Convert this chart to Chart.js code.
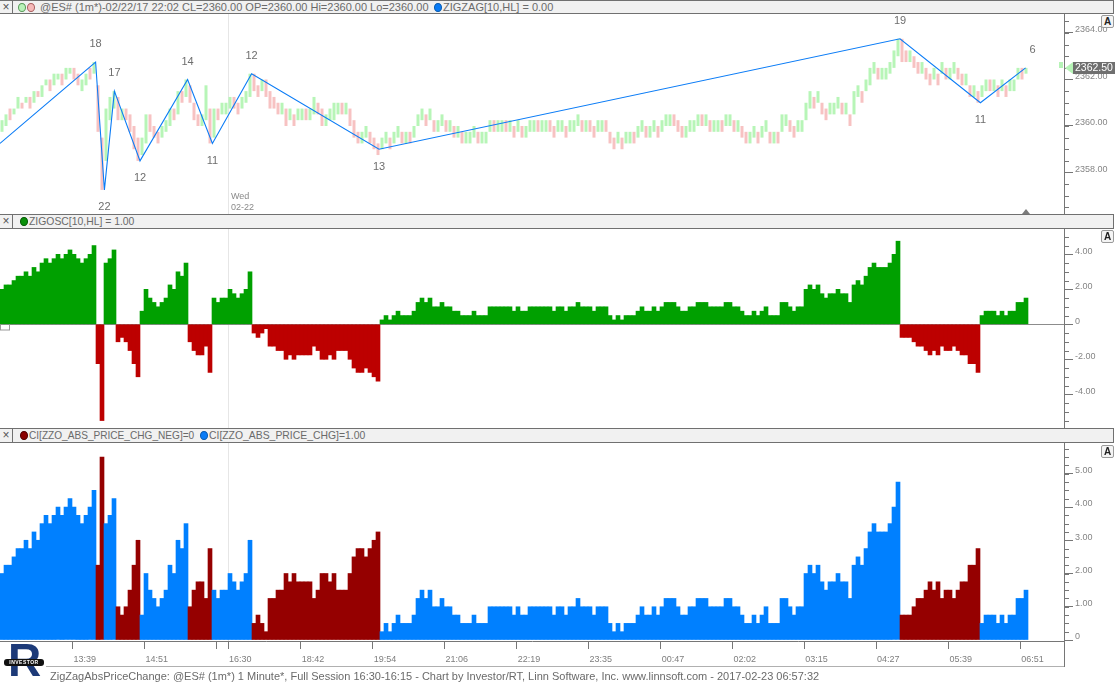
<!DOCTYPE html>
<html><head><meta charset="utf-8">
<script src="https://cdn.jsdelivr.net/npm/chart.js@4.4.1/dist/chart.umd.min.js"></script>
<style>
body{margin:0;background:#fff;width:1115px;height:684px;overflow:hidden;position:relative;font-family:"Liberation Sans",Arial,sans-serif;}
.hdr{position:absolute;left:0;width:1113px;background:#f1f1f1;border-top:1px solid #707070;border-bottom:1px solid #707070;border-right:1px solid #707070;font-size:11px;color:#6a6a6a;white-space:nowrap;box-sizing:content-box}
.hdr span{position:absolute;top:0}
.xb{position:absolute;left:0;top:0;width:12px;height:100%;border-right:1px solid #707070;color:#555;font-size:12px;text-align:center}
.dot{display:inline-block;width:6px;height:7px;border-radius:50%;border:1px solid;top:2px !important}
.abtn{position:absolute;left:1101px;width:11px;height:11px;border:1px solid #9a9a9a;border-radius:2px;background:#f4f4f4;font-size:10px;font-weight:bold;color:#222;text-align:center;line-height:11px}
canvas{position:absolute;left:0}
.foot{position:absolute;left:50px;top:670px;font-size:11px;color:#6a6a6a;white-space:nowrap}
.logoR{position:absolute;left:8px;top:636px;font-size:46px;font-weight:bold;color:#1d3a78;line-height:48px}
.logoB{position:absolute;left:4px;top:659px;width:40px;height:7px;background:#111;border-radius:3px;color:#fff;font-size:5px;line-height:7px;text-align:center;font-weight:bold;letter-spacing:0.5px}
</style></head>
<body>
<div class="hdr" style="top:0;height:12px;line-height:12px">
  <div class="xb">×</div>
  <span class="dot" style="left:18px;background:#b9f3b9;border-color:#5a9a5a"></span>
  <span class="dot" style="left:27px;background:#f6b9b9;border-color:#a86060"></span>
  <span style="left:40px">@ES# (1m*)-02/22/17 22:02 CL=2360.00 OP=2360.00 Hi=2360.00 Lo=2360.00</span>
  <span class="dot" style="left:434px;background:#0a7cf6;border-color:#0a5cb0"></span>
  <span style="left:443px">ZIGZAG[10,HL] = 0.00</span>
</div>
<div class="hdr" style="top:214px;height:13px;line-height:13px;font-size:10.4px">
  <div class="xb">×</div>
  <span class="dot" style="left:20px;background:#0a900a;border-color:#065806"></span>
  <span style="left:29px">ZIGOSC[10,HL] = 1.00</span>
</div>
<div class="hdr" style="top:428px;height:13px;line-height:13px;font-size:10.4px">
  <div class="xb">×</div>
  <span class="dot" style="left:20px;background:#8a0000;border-color:#500000"></span>
  <span style="left:29px;font-size:10.1px">CI[ZZO_ABS_PRICE_CHG_NEG]=0</span>
  <span class="dot" style="left:200px;background:#0a7cf6;border-color:#0a5cb0"></span>
  <span style="left:209px">CI[ZZO_ABS_PRICE_CHG]=1.00</span>
</div>
<canvas id="c1" width="1115" height="200" style="top:14px"></canvas>
<canvas id="c2" width="1115" height="199" style="top:229px"></canvas>
<canvas id="c3" width="1115" height="227" style="top:443px"></canvas>
<div class="abtn" style="top:15px">A</div>
<div class="abtn" style="top:230px">A</div>
<div class="abtn" style="top:445px">A</div>
<div class="logoR">R</div>
<div class="logoB">INVESTOR</div>
<div class="foot">ZigZagAbsPriceChange: @ES# (1m*) 1 Minute*, Full Session 16:30-16:15 - Chart by Investor/RT, Linn Software, Inc. www.linnsoft.com - 2017-02-23 06:57:32</div>
<script>
// ---------- DATA ----------
// one entry per group of bars (bar-index units)
const priceLow = [
2359.75,2360,2360.25,2360.5,2360.75,2360.75,2361,2360.75,2361,2361.25,
2361.25,2361.75,2361.5,2361.75,2362,2361.75,2362,2362.25,2362,2361.75,
2361.5,2361.75,2362,2362.25,2359.75,2357.25,2358.5,2360.25,2360.75,2360.25,
2360.25,2360.25,2359.75,2359,2358.5,2358.75,2359.25,2359.75,2359.5,2359.25,
2359.5,2359.75,2360,2360.25,2360.5,2361,2361.25,2361,2360.25,2360,
2360,2360.25,2359.25,2359.5,2360.25,2360.5,2360.5,2360.75,2360.75,2360.5,
2360.75,2361,2361.25,2361.5,2361.25,2361.5,2361.25,2360.75,2360.75,2360.5,
2360.5,2360,2360.25,2360,2360.25,2360.25,2360.25,2360.25,2360.5,2360.5,
2360,2360,2360.25,2360.25,2360.5,2360.5,2360.5,2360,2359.5,2359.25,
2359.25,2359.5,2359.25,2359,2358.75,2359,2359.25,2359,2359.25,2359.5,
2359.25,2359.25,2359.25,2359.5,2360,2360.25,2360,2360.25,2359.75,2359.75,
2360,2359.75,2359.75,2359.5,2359.5,2359.25,2359.25,2359.25,2359.5,2359.25,
2359.25,2359.25,2359.75,2359.75,2359.75,2359.75,2359.75,2359.75,2359.5,2359.75,
2359.5,2359.5,2359.75,2359.75,2359.75,2359.75,2359.75,2359.75,2359.5,2359.75,
2359.75,2359.5,2359.75,2359.75,2360,2359.75,2359.75,2359.75,2359.5,2359.75,
2359.75,2359.75,2359.25,2359,2359.25,2359,2359.25,2359.25,2359.25,2359.5,
2359.75,2359.5,2359.5,2359.75,2359.5,2359.75,2360,2360,2360,2359.75,
2359.5,2359.5,2359.75,2359.75,2360,2360,2360,2359.75,2359.75,2359.75,
2359.75,2360,2360,2359.75,2359.75,2359.5,2359.25,2359.25,2359.5,2359.25,
2359.5,2359.75,2359.25,2359.25,2359.25,2359.75,2360,2359.75,2359.5,2359.75,
2359.75,2360.25,2360.75,2360.75,2361,2360.5,2360.25,2360.5,2360.5,2360.75,
2360.5,2360.5,2360,2360.5,2361.25,2361,2361.5,2361.75,2362.25,2362,
2362,2362,2362.25,2362.5,2363,2362.75,2362.75,2362.75,2362.5,2362.25,
2362.25,2362,2361.75,2362,2361.75,2362.25,2362,2362,2362.25,2362,
2361.75,2361.75,2361.25,2361.25,2361,2361.25,2361.5,2361.5,2361.5,2361.25,
2361.5,2361.25,2361.5,2361.5,2362,2362,2362.25];
const priceHigh = [
2360.25,2360.5,2360.75,2360.75,2361.25,2361,2361.25,2361.25,2361.5,2361.5,
2361.75,2362,2362,2362.25,2362.25,2362.25,2362.5,2362.5,2362.5,2362.25,
2362,2362.25,2362.5,2362.75,2361.75,2359.5,2360.75,2361.25,2361.5,2361.25,
2360.75,2360.75,2360.5,2360,2359.5,2359.5,2360.5,2360.5,2360,2359.75,
2360,2360.25,2360.75,2360.75,2361.5,2361.5,2362,2361.75,2361,2360.5,
2360.5,2361.75,2360.75,2360.75,2360.75,2361,2361,2361.25,2361.25,2361,
2361.25,2361.5,2362.25,2362.25,2361.75,2362,2362,2361.5,2361.25,2361,
2361,2360.75,2360.75,2360.5,2360.75,2360.75,2360.75,2360.75,2361.25,2361,
2360.75,2360.5,2360.75,2361,2361,2361,2361,2360.75,2360.25,2359.75,
2359.75,2360,2359.75,2359.5,2359.25,2359.5,2359.75,2359.5,2359.75,2360,
2359.75,2359.75,2359.75,2360,2360.5,2360.75,2360.5,2360.75,2360.25,2360.25,
2360.5,2360.25,2360.25,2360,2360,2359.75,2359.75,2359.75,2360,2359.75,
2359.75,2359.75,2360.25,2360.25,2360.25,2360.25,2360.25,2360.25,2360,2360.25,
2360,2360,2360.25,2360.25,2360.25,2360.25,2360.25,2360.25,2360,2360.25,
2360.25,2360,2360.25,2360.25,2360.5,2360.25,2360.25,2360.25,2360,2360.25,
2360.25,2360.25,2359.75,2359.5,2359.75,2359.5,2359.75,2359.75,2359.75,2360,
2360.25,2360,2360,2360.25,2360,2360.25,2360.5,2360.5,2360.5,2360.25,
2360,2360,2360.25,2360.25,2360.5,2360.5,2360.5,2360.25,2360.25,2360.25,
2360.25,2360.5,2360.5,2360.25,2360.25,2360,2359.75,2359.75,2360,2359.75,
2360,2360.25,2359.75,2359.75,2359.75,2360.5,2360.5,2360.25,2360,2360.25,
2360.25,2361,2361.5,2361.25,2361.5,2361,2360.75,2361,2361,2361.25,
2361,2361,2360.5,2361.5,2361.75,2361.5,2362,2362.5,2362.75,2362.5,
2362.5,2362.5,2362.75,2363.25,2363.75,2363.75,2363.25,2363.25,2363,2362.75,
2362.75,2362.5,2362.25,2362.5,2362.25,2362.75,2362.5,2362.5,2362.75,2362.5,
2362.25,2362.25,2361.75,2361.75,2361.5,2361.75,2362,2362,2362,2361.75,
2362,2361.75,2362,2362,2362.5,2362.5,2362.5];
const priceUp = [
1,1,0,1,1,0,1,0,1,0, 1,1,0,1,1,0,1,1,0,0, 1,1,0,1,0,0,1,1,1,0,
1,0,0,0,0,1,1,0,0,0, 1,1,1,0,1,0,1,0,0,0, 1,1,0,1,0,1,1,1,0,0,
1,1,1,0,0,1,0,0,0,0, 1,0,1,0,1,1,0,1,1,0, 0,1,1,1,1,0,1,0,0,0,
1,1,0,0,0,1,1,0,1,1, 0,1,0,1,1,1,0,1,0,1, 1,0,1,0,1,0,1,1,1,0,
1,1,1,0,1,1,0,1,0,1, 0,1,1,1,0,1,1,0,0,1, 1,0,1,1,1,0,1,0,0,1,
1,0,0,0,1,0,1,1,0,1, 1,0,1,1,0,1,1,1,0,0, 0,1,1,1,1,0,1,0,1,1,
0,1,1,0,1,0,0,1,1,0, 1,1,0,1,0,1,1,0,0,1, 1,1,1,0,1,0,0,1,1,1,
0,1,0,1,1,0,1,1,1,0, 1,1,1,1,1,0,0,1,0,0, 1,0,0,1,0,1,0,1,1,0,
0,1,0,1,0,1,1,0,1,0, 1,0,1,1,1,0,1];
// ZIGOSC: price minus last zigzag pivot
const zigOsc = [
2,2.25,2.25,2.5,2.75,2.75,3,2.75,3.25,3,3.5,3.75,3.5,3.75,4,3.75,4,4.25,4,3.75,3.5,3.75,4,4.5,
-2.25,-5.5,
3.5,3.75,4.25,
-1,-0.75,-1,-1.5,-2.25,-3,
0.75,2,1.5,1.25,1,1.25,1.5,2.25,2,3,2.75,3.5,
-1,-1.5,-1.75,-1.75,-1.25,-2.75,
1.5,1.25,1.5,1.5,2,1.75,1.5,1.75,2,3,
-0.5,-0.75,-0.5,-0.25,-1.25,-1.25,-1.5,-1.5,-2,-1.75,-2,-1.75,-1.75,-1.75,-1.75,-1.25,
-1.5,-2,-2,-1.75,-2,-1.5,-1.5,-1.5,-2,-2.5,-2.75,-2.75,-2.5,-2.75,-3,-3.25,
0.25,0.5,0.25,0.5,0.75,0.5,0.5,0.5,0.75,1.25,1.5,1.25,1.5,1,1,1.25,1,1,0.75,0.75,0.5,0.5,0.5,
0.75,0.5,0.5,0.5,1,1,1,1,1,1,0.75,1,0.75,0.75,1,1,1,1,1,1,0.75,1,
1,0.75,1,1,1.25,1,1,1,0.75,1,1,1,0.5,0.25,0.5,0.25,0.5,0.5,0.5,0.75,1,0.75,0.75,1,0.75,1,
1.25,1.25,1.25,1,0.75,0.75,1,1,1.25,1.25,1.25,1,1,1,1,1.25,1.25,1,1,0.75,0.5,0.5,0.75,0.5,
0.75,1,0.5,0.5,0.5,1.25,1.25,1,0.75,1,1,2,2.25,2,2.25,1.75,1.5,1.75,1.75,2,1.75,1.75,1.25,
2.25,2.5,2.25,2.75,3.25,3.5,3.25,3.25,3.25,3.5,4,4.75,
-0.75,-0.75,-0.75,-1,-1.25,-1.25,-1.5,-1.75,-1.5,-1.75,-1.25,-1.5,-1.5,-1.25,-1.5,-1.75,-1.75,-2.25,-2.25,-2.75,
0.5,0.75,0.75,0.75,0.5,0.75,0.5,0.75,0.75,1.25,1.25,1.5];
// ZIGZAG pivots (bar-index units), prices and pivot labels
const zzIndex = [0, 23.9, 26.1, 28.6, 35, 46.9, 53.1, 62.9, 94.75, 225, 245.1, 256.4];
const zzPrice = [2359.25, 2362.75, 2357.25, 2361.5, 2358.5, 2362.0, 2359.25, 2362.25, 2359.0, 2363.75, 2361.0, 2362.5];
const zzLabels = ['', '18', '22', '17', '12', '14', '11', '12', '13', '19', '11', '6'];
const lastPrice = 2362.5;
// time axis
const timeTickIndex = [18.1, 36.15, 54.2, 57, 75.2, 93.2, 111.15, 129.2, 147.1, 165.2, 183.1, 201.05, 219, 237.1, 255.05];
const timeTickLabels = ['13:39', '14:51', '', '16:30', '18:42', '19:54', '21:06', '22:19', '23:35', '00:47', '02:02', '03:15', '04:27', '05:39', '06:51'];
const sessionStartIndex = 57;
const priceTicks = [2358, 2360, 2362, 2364];
const oscTicks = [-4, -2, 0, 2, 4];
const absTicks = [0, 1, 2, 3, 4, 5];

// ---------- CHARTS ----------
Chart.defaults.font.family = '"Liberation Sans", Arial, sans-serif';
const AXC = '#767676';
const N = zigOsc.length;
const XMAX = 266;

function xAxis(show) {
  return {
    type: 'linear', min: 0, max: XMAX, offset: false, display: show,
    grid: { drawOnChartArea: false, drawTicks: true, tickLength: 8, color: AXC, offset: false },
    border: { display: show, color: AXC },
    ticks: { autoSkip: false, maxRotation: 0, minRotation: 0, align: 'start', labelOffset: 1, padding: 5,
      font: { size: 9 }, color: '#7e7e7e', callback: (v, i) => timeTickLabels[i] },
    afterBuildTicks: s => { s.ticks = timeTickIndex.map(v => ({ value: v })); },
    afterFit: s => { if (show) { s.height = 29; } s.paddingLeft = 0; s.paddingRight = 0; }
  };
}
function yAxis(min, max, ticks, fmt) {
  return {
    position: 'right', min, max,
    grid: { drawOnChartArea: false, tickLength: 9, color: AXC },
    border: { color: AXC },
    ticks: { font: { size: 9 }, color: '#858585', padding: 2, labelOffset: -3, crossAlign: 'near', callback: fmt },
    afterBuildTicks: s => { s.ticks = ticks.map(v => ({ value: v })); },
    afterFit: s => { s.width = 51; s.paddingTop = 0; s.paddingBottom = 0; }
  };
}
const fmt2 = v => (v === 0 ? '0' : v.toFixed(2));

function minorTicks(step, lo, hi) {
  return {
    id: 'minor' + step,
    afterDraw(c) {
      const y = c.scales.y, a = c.chartArea, ctx = c.ctx;
      ctx.save(); ctx.strokeStyle = AXC; ctx.lineWidth = 1; ctx.beginPath();
      for (let v = lo; v <= hi + 1e-9; v += step) {
        const p = Math.round(y.getPixelForValue(v)) + 0.5;
        if (p < a.top || p > a.bottom) continue;
        ctx.moveTo(a.right, p); ctx.lineTo(a.right + 5, p);
      }
      ctx.stroke(); ctx.restore();
    }
  };
}
const sessionLine = {
  id: 'session',
  beforeDatasetsDraw(c) {
    const a = c.chartArea, ctx = c.ctx;
    const x = Math.round(c.scales.x.getPixelForValue(sessionStartIndex)) + 0.5;
    ctx.save(); ctx.strokeStyle = '#e6e6e6'; ctx.lineWidth = 1;
    ctx.beginPath(); ctx.moveTo(x, a.top); ctx.lineTo(x, a.bottom); ctx.stroke(); ctx.restore();
  }
};
const common = { responsive: false, animation: false, devicePixelRatio: 1,
  plugins: { legend: { display: false }, tooltip: { enabled: false } }, layout: { padding: 0 } };

// Top: price + zigzag
const topExtras = {
  id: 'topExtras',
  afterDatasetsDraw(c) {
    const ctx = c.ctx, xs = c.scales.x, ys = c.scales.y;
    ctx.save();
    ctx.font = '11px "Liberation Sans", Arial, sans-serif';
    ctx.fillStyle = '#6e6e6e'; ctx.textAlign = 'center'; ctx.textBaseline = 'middle';
    for (let i = 1; i < zzIndex.length; i++) {
      const peak = zzPrice[i] > zzPrice[i - 1];
      let x = xs.getPixelForValue(zzIndex[i]);
      if (i === zzIndex.length - 1) x += 7;
      const y = ys.getPixelForValue(zzPrice[i]) + (peak ? -18 : 17.5);
      ctx.fillText(zzLabels[i], x, y);
    }
    // session date label
    ctx.font = '9px "Liberation Sans", Arial, sans-serif'; ctx.fillStyle = '#8a8a8a'; ctx.textAlign = 'left';
    const sx = xs.getPixelForValue(sessionStartIndex) + 3;
    ctx.fillText('Wed', sx, 183); ctx.fillText('02-22', sx, 194);
    ctx.restore();
  },
  afterDraw(c) {
    const ctx = c.ctx, ys = c.scales.y, a = c.chartArea;
    const y = Math.round(ys.getPixelForValue(lastPrice));
    ctx.save();
    ctx.fillStyle = '#b6f3b6';
    ctx.fillRect(a.right - 5, y - 6, 4, 6);
    ctx.beginPath(); ctx.moveTo(a.right + 1, y); ctx.lineTo(a.right + 9, y - 6); ctx.lineTo(a.right + 9, y + 6); ctx.closePath(); ctx.fill();
    ctx.fillStyle = '#6f6f6f'; ctx.fillRect(a.right + 9, y - 6, 51, 12);
    ctx.fillStyle = '#ffffff'; ctx.font = '10.5px "Liberation Sans", Arial, sans-serif';
    ctx.textAlign = 'left'; ctx.textBaseline = 'middle';
    ctx.fillText(lastPrice.toFixed(2), a.right + 11, y + 0.5);
    // end-of-data marker
    const tx = c.scales.x.getPixelForValue(N - 0.5);
    ctx.fillStyle = '#7a7a7a';
    ctx.beginPath(); ctx.moveTo(tx - 4, a.bottom); ctx.lineTo(tx + 4, a.bottom); ctx.lineTo(tx, a.bottom - 5); ctx.closePath(); ctx.fill();
    ctx.restore();
  }
};
new Chart(document.getElementById('c1'), {
  type: 'bar',
  data: { datasets: [
    { type: 'line', data: zzIndex.map((x, i) => ({ x, y: zzPrice[i] })), borderColor: '#0b7cf6', borderWidth: 1.1,
      pointRadius: 0, tension: 0, order: 0 },
    { type: 'bar', data: priceLow.map((lo, i) => ({ x: i + 0.5, y: [lo, priceHigh[i]] })),
      backgroundColor: priceUp.map(u => (u ? '#b7f5b7' : '#f7c2c2')), borderWidth: 0,
      barPercentage: 0.75, categoryPercentage: 1, order: 1 }
  ] },
  options: Object.assign({}, common, { scales: { x: xAxis(false), y: yAxis(2356.215, 2364.817, priceTicks, v => v.toFixed(2)) } }),
  plugins: [sessionLine, minorTicks(0.5, 2356.5, 2364.5), topExtras]
});

// Middle: ZIGOSC
const midExtras = {
  id: 'midExtras',
  beforeDatasetsDraw(c) {
    const ctx = c.ctx, a = c.chartArea;
    const y = Math.round(c.scales.y.getPixelForValue(0)) + 0.5;
    ctx.save(); ctx.strokeStyle = '#8c8c8c'; ctx.lineWidth = 1;
    ctx.beginPath(); ctx.moveTo(a.left, y); ctx.lineTo(a.right, y); ctx.stroke();
    ctx.strokeStyle = '#9a9a9a'; ctx.strokeRect(0.5, y - 0.5, 9, 6);
    ctx.restore();
  }
};
new Chart(document.getElementById('c2'), {
  type: 'bar',
  data: { datasets: [{ data: zigOsc.map((v, i) => ({ x: i + 0.5, y: v })),
    backgroundColor: zigOsc.map(v => (v >= 0 ? '#00a000' : '#bd0000')), borderWidth: 0,
    barPercentage: 1, categoryPercentage: 1 }] },
  options: Object.assign({}, common, { scales: { x: xAxis(false), y: yAxis(-5.926, 5.446, oscTicks, fmt2) } }),
  plugins: [sessionLine, minorTicks(0.5, -5.5, 5), midExtras]
});

// Bottom: absolute price change since last pivot (blue = up leg, dark red = down leg)
const absChange = zigOsc.map(v => Math.abs(v));
const botExtras = {
  id: 'botExtras',
  afterDraw(c) {
    const ctx = c.ctx, a = c.chartArea;
    ctx.save(); ctx.strokeStyle = AXC; ctx.lineWidth = 1;
    ctx.beginPath(); ctx.moveTo(a.right + 0.5, a.bottom); ctx.lineTo(a.right + 0.5, a.bottom + 26); ctx.stroke();
    ctx.strokeStyle = '#b0b0b0';
    ctx.beginPath(); ctx.moveTo(46, a.bottom + 25.5); ctx.lineTo(a.right, a.bottom + 25.5); ctx.stroke();
    ctx.restore();
  }
};
new Chart(document.getElementById('c3'), {
  type: 'bar',
  data: { datasets: [{ data: absChange.map((v, i) => ({ x: i + 0.5, y: v })),
    backgroundColor: zigOsc.map(v => (v >= 0 ? '#0080ff' : '#950000')), borderWidth: 0,
    barPercentage: 1, categoryPercentage: 1 }] },
  options: Object.assign({}, common, { scales: { x: xAxis(true), y: yAxis(-0.03, 5.925, absTicks, fmt2) } }),
  plugins: [sessionLine, minorTicks(0.25, 0, 5.75), botExtras]
});
</script>
</body></html>
